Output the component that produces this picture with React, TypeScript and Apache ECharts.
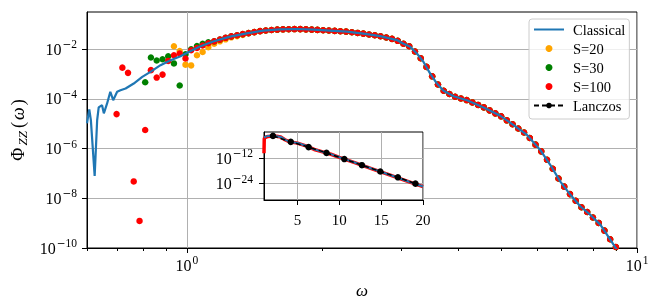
import React, { useEffect, useRef } from "react";
import * as echarts from "echarts";

const xRange = [0.6, 10];
const yLog10Range = [-10, -0.5];
const yMajorTicks = [-10, -8, -6, -4, -2];
const xMajorTicks = [1, 10];
const xMinorTicks = [0.6, 0.7, 0.8, 0.9, 2, 3, 4, 5, 6, 7, 8, 9];

const classicalOmega = [0.600, 0.607, 0.612, 0.624, 0.632, 0.637, 0.648, 0.654, 0.665, 0.676, 0.686, 0.700, 0.712, 0.731, 0.762, 0.796, 0.830, 0.874, 0.920, 0.965, 1.015, 1.069, 1.144, 1.247, 1.358, 1.478, 1.610, 1.754, 1.910, 2.080, 2.266, 2.467, 2.688, 2.928, 3.030, 3.134, 3.244, 3.355, 3.472, 3.594, 3.718, 3.913, 4.191, 4.563, 4.970, 5.320, 5.697, 6.100, 6.421, 6.757, 7.113, 7.487, 7.880, 8.295, 8.730, 9.190];
const classicalLog10 = [-4.98, -4.42, -4.85, -7.10, -4.85, -4.34, -4.25, -4.58, -4.18, -3.71, -4.05, -3.71, -3.65, -3.58, -3.38, -3.11, -2.91, -2.64, -2.44, -2.29, -2.09, -1.89, -1.69, -1.49, -1.36, -1.25, -1.20, -1.185, -1.21, -1.25, -1.29, -1.37, -1.47, -1.63, -1.78, -1.90, -2.17, -2.51, -2.98, -3.38, -3.67, -3.89, -4.05, -4.34, -4.68, -5.05, -5.45, -6.06, -6.66, -7.33, -7.86, -8.33, -8.67, -9.07, -9.67, -10.30];

// frequency grid of the S=... sample points
const omegaGrid = [0.698, 0.719, 0.740, 0.762, 0.785, 0.808, 0.832, 0.857, 0.883, 0.909, 0.936, 0.964, 0.993, 1.022, 1.053, 1.084, 1.116, 1.150, 1.184, 1.219, 1.255, 1.293, 1.331, 1.371, 1.412, 1.454, 1.497, 1.542, 1.588, 1.635, 1.684, 1.734, 1.786, 1.839, 1.894, 1.950, 2.008, 2.068, 2.130, 2.193, 2.258, 2.326, 2.395, 2.466, 2.540, 2.615, 2.693, 2.774, 2.856, 2.941, 3.029, 3.119, 3.212, 3.308, 3.407, 3.508, 3.613, 3.720, 3.831, 3.945, 4.063, 4.184, 4.308, 4.437, 4.569, 4.705, 4.845, 4.990, 5.138, 5.292, 5.449, 5.612, 5.779, 5.951, 6.128, 6.311, 6.499, 6.693, 6.892, 7.097, 7.309, 7.527, 7.751, 7.982, 8.220, 8.465, 8.717, 8.977];

// low-frequency parts that differ between S values (start index in omegaGrid given)
const s100Start = 0;
const s100HeadLog10 = [-4.61, -2.74, -2.95, -7.32, -8.91, -5.25, -2.84, -3.14, -3.02, -2.47, -2.24, -2.17, -2.37, -2.04, -1.95, -1.85, -1.76];
const s30Start = 5;
const s30HeadLog10 = [-3.33, -2.33, -2.45, -2.40, -2.28, -2.57, -3.46, -2.20, -2.00, -1.87, -1.78, -1.72];
const s20Start = 10;
const s20HeadLog10 = [-1.88, -2.07, -2.62, -2.65, -2.24, -2.11, -1.92, -1.78, -1.68, -1.60, -1.52, -1.47, -1.42];
// common part (grid index 17 ... 87), where all S values coincide
const tailStart = 17;
const tailLog10 = [-1.68, -1.61, -1.54, -1.48, -1.435, -1.39, -1.35, -1.31, -1.27, -1.243, -1.226, -1.208, -1.197, -1.192, -1.187, -1.19, -1.199, -1.207, -1.22, -1.233, -1.247, -1.26, -1.274, -1.288, -1.314, -1.342, -1.37, -1.404, -1.438, -1.475, -1.527, -1.583, -1.66, -1.78, -1.88, -2.09, -2.36, -2.71, -3.09, -3.42, -3.67, -3.80, -3.91, -3.98, -4.045, -4.14, -4.24, -4.34, -4.46, -4.58, -4.70, -4.86, -5.02, -5.19, -5.35, -5.57, -5.84, -6.11, -6.45, -6.81, -7.20, -7.53, -7.83, -8.10, -8.36, -8.55, -8.77, -8.99, -9.30, -9.65, -9.96];

// inset
const insetXRange = [1, 20];
const insetYLog10Range = [-31.8, 0.6];
const insetXTicks = [5, 10, 15, 20];
const insetYTicks = [-24, -12];
const insetOmega = [1.0, 1.05, 1.2, 1.5, 2.0, 2.5, 3.0, 3.5, 4.0, 5.0, 6.0, 7.0, 8.0, 9.0, 10.0, 12.0, 14.0, 16.0, 18.0, 20.0];
const insetClassicalLog10 = [-2.1, -1.98, -1.6, -1.25, -1.22, -1.38, -1.75, -3.05, -3.98, -4.66, -5.97, -7.69, -8.8, -9.96, -11.4, -14.2, -17.0, -19.8, -22.6, -25.4];
const insetS100Omega = [1.0, 1.03, 1.1, 1.2, 1.5, 2.0, 2.5, 3.0, 3.5, 4.0, 5.0, 6.0, 7.0, 8.0, 9.0, 10.0, 12.0, 14.0, 16.0, 18.0, 20.0];
const insetS100Log10 = [-9.5, -2.6, -2.2, -1.9, -1.5, -1.3, -1.45, -1.78, -3.08, -4.0, -4.7, -6.0, -7.72, -8.84, -10.0, -11.45, -14.25, -17.05, -19.85, -22.65, -25.45];
const lanczosOmega = [2.07, 4.2, 6.33, 8.47, 10.6, 12.7, 14.9, 17.0, 19.1];
const lanczosLog10 = [-1.25, -4.1, -6.6, -9.35, -12.3, -15.2, -18.2, -21.0, -24.0];

const legendNames = ["Classical", "S=20", "S=30", "S=100", "Lanczos"];

// ---------- styles ----------
const FONT = '"Liberation Serif", "DejaVu Serif", serif';
const MINUS_FONT = '"DejaVu Serif", serif';
const C_BLUE = "#1f77b4";
const C_ORANGE = "#FFA500";
const C_GREEN = "#008000";
const C_RED = "#FF0000";
const GRIDLINE = "#b0b0b0";

const lg = (v: number) => Math.log10(v);
const pairs = (om: number[], lp: number[]) => om.map((o, i) => [lg(o), lp[i]]);
const gridSeries = (start: number, head: number[], tailFrom: number) => {
  const out: number[][] = [];
  head.forEach((v, i) => out.push([lg(omegaGrid[start + i]), v]));
  const tailBegin = start + head.length;
  for (let k = tailBegin; k < omegaGrid.length; k++) {
    out.push([lg(omegaGrid[k]), tailLog10[k - tailFrom]]);
  }
  return out;
};

const powLabel = (v: number) => {
  const n = Math.round(v);
  return n < 0 ? `{b|10}{m|\u2212}{s|${Math.abs(n)}}` : `{b|10}{s0|${n}}`;
};
const powRich = {
  b: { fontFamily: FONT, fontSize: 16, color: "#000", lineHeight: 22 },
  m: { fontFamily: MINUS_FONT, fontSize: 10.5, color: "#000", lineHeight: 11, verticalAlign: "top", padding: [0, 0, 0, 1] },
  s: { fontFamily: FONT, fontSize: 11.5, color: "#000", lineHeight: 11, verticalAlign: "top" },
  s0: { fontFamily: FONT, fontSize: 11.5, color: "#000", lineHeight: 11, verticalAlign: "top", padding: [0, 0, 0, 1] },
};

export default function App() {
  const ref = useRef<HTMLDivElement>(null);
  useEffect(() => {
    if (!ref.current) return;
    const chart = echarts.init(ref.current, undefined, { renderer: "svg" });
    const axisLineStyle = { color: "#000", width: 1 };
    const option: any = {
      animation: false,
      textStyle: { fontFamily: FONT },
      grid: [
        { left: 87, top: 12, width: 550, height: 236, show: true, borderColor: "#000", borderWidth: 1, backgroundColor: "transparent" },
        { left: 264, top: 132, width: 159, height: 68, show: true, borderColor: "#000", borderWidth: 1, backgroundColor: "#fff", z: 5 },
      ],
      xAxis: [
        {
          gridIndex: 0, type: "value", position: "bottom",
          min: lg(xRange[0]), max: lg(xRange[1]),
          axisLine: { show: true, onZero: false, lineStyle: axisLineStyle },
          axisTick: { show: true, length: 5, customValues: xMajorTicks.map(lg), lineStyle: axisLineStyle },
          axisLabel: { customValues: xMajorTicks.map(lg), formatter: (v: number) => powLabel(v), rich: powRich, margin: 6 },
          splitLine: { show: true, lineStyle: { color: GRIDLINE, width: 1 } },
          name: "{it|\u03c9}", nameLocation: "middle", nameGap: 34,
          nameTextStyle: { rich: { it: { fontFamily: FONT, fontSize: 17, fontStyle: "italic", color: "#000" } } },
        },
        {
          gridIndex: 0, type: "value", position: "bottom",
          min: lg(xRange[0]), max: lg(xRange[1]),
          axisLine: { show: false },
          axisTick: { show: true, length: 3, customValues: xMinorTicks.map(lg), lineStyle: axisLineStyle },
          axisLabel: { show: false },
          splitLine: { show: false },
        },
        {
          gridIndex: 1, type: "value", position: "bottom", z: 6,
          min: insetXRange[0], max: insetXRange[1],
          axisLine: { show: true, onZero: false, lineStyle: axisLineStyle },
          axisTick: { show: true, length: 5, customValues: insetXTicks, lineStyle: axisLineStyle },
          axisLabel: { customValues: insetXTicks, fontFamily: FONT, fontSize: 15, color: "#000", margin: 12 },
          splitLine: { show: true, lineStyle: { color: GRIDLINE, width: 1 } },
        },
      ],
      yAxis: [
        {
          gridIndex: 0, type: "value", position: "left",
          min: yLog10Range[0], max: yLog10Range[1],
          axisLine: { show: true, onZero: false, lineStyle: axisLineStyle },
          axisTick: { show: true, length: 5, customValues: yMajorTicks, lineStyle: axisLineStyle },
          axisLabel: { customValues: yMajorTicks, formatter: (v: number) => powLabel(v), rich: powRich, margin: 10 },
          splitLine: { show: true, lineStyle: { color: GRIDLINE, width: 1 } },
          name: "{p|\u03a6}{sub|ZZ}{p|(}{it|\u03c9}{p|)}", nameLocation: "middle", nameGap: 55, nameRotate: 90,
          nameTextStyle: {
            rich: {
              p: { fontFamily: FONT, fontSize: 18, color: "#000", lineHeight: 22, padding: [0, 1, 0, 1] },
              it: { fontFamily: FONT, fontSize: 18, fontStyle: "italic", color: "#000", lineHeight: 22, padding: [0, 1, 0, 1] },
              sub: { fontFamily: FONT, fontSize: 13, fontStyle: "italic", color: "#000", lineHeight: 12, verticalAlign: "bottom", padding: [0, 2, 0, 1] },
            },
          },
        },
        {
          gridIndex: 1, type: "value", position: "left", z: 6,
          min: insetYLog10Range[0], max: insetYLog10Range[1],
          axisLine: { show: true, onZero: false, lineStyle: axisLineStyle },
          axisTick: { show: true, length: 5, customValues: insetYTicks, lineStyle: axisLineStyle },
          axisLabel: { customValues: insetYTicks, formatter: (v: number) => powLabel(v), rich: powRich, margin: 11 },
          splitLine: { show: true, lineStyle: { color: GRIDLINE, width: 1 } },
        },
      ],
      legend: {
        data: [{ name: legendNames[0], itemStyle: { opacity: 0 } }, ...legendNames.slice(1)],
        orient: "vertical",
        left: 529, top: 19,
        itemWidth: 30, itemHeight: 7, itemGap: 4,
        padding: [3, 4, 6, 4],
        backgroundColor: "rgba(255,255,255,0.8)",
        borderColor: "#cccccc", borderWidth: 1, borderRadius: 3,
        selectedMode: false,
        textStyle: { fontFamily: FONT, fontSize: 14.5, color: "#000", padding: [0, 0, 0, 4] },
        z: 20,
      },
      series: [
        { name: "S=20", type: "scatter", xAxisIndex: 0, yAxisIndex: 0, symbolSize: 6.5, itemStyle: { color: C_ORANGE, opacity: 1 }, data: gridSeries(s20Start, s20HeadLog10, tailStart), z: 2 },
        { name: "S=30", type: "scatter", xAxisIndex: 0, yAxisIndex: 0, symbolSize: 6.5, itemStyle: { color: C_GREEN, opacity: 1 }, data: gridSeries(s30Start, s30HeadLog10, tailStart), z: 2 },
        { name: "S=100", type: "scatter", xAxisIndex: 0, yAxisIndex: 0, symbolSize: 6.5, itemStyle: { color: C_RED, opacity: 1 }, data: gridSeries(s100Start, s100HeadLog10, tailStart), z: 2 },
        { name: "Classical", type: "line", xAxisIndex: 0, yAxisIndex: 0, symbol: "none", lineStyle: { color: C_BLUE, width: 2.2 }, itemStyle: { color: C_BLUE }, data: pairs(classicalOmega, classicalLog10), z: 3 },
        { name: "S=100 (inset)", type: "line", xAxisIndex: 2, yAxisIndex: 1, symbol: "none", lineStyle: { color: C_RED, width: 3.5 }, itemStyle: { color: C_RED }, data: insetS100Omega.map((o, i) => [o, insetS100Log10[i]]), z: 10 },
        { name: "Classical (inset)", type: "line", xAxisIndex: 2, yAxisIndex: 1, symbol: "none", lineStyle: { color: C_BLUE, width: 2 }, itemStyle: { color: C_BLUE }, data: insetOmega.map((o, i) => [o, insetClassicalLog10[i]]), z: 11 },
        { name: "Lanczos", type: "line", xAxisIndex: 2, yAxisIndex: 1, symbol: "circle", symbolSize: 6.5, lineStyle: { color: "#000", width: 1.5, type: [5, 3] }, itemStyle: { color: "#000" }, data: lanczosOmega.map((o, i) => [o, lanczosLog10[i]]), z: 12 },
      ],
    };
    chart.setOption(option);
    return () => chart.dispose();
  }, []);
  return <div ref={ref} style={{ position: "fixed", left: 0, top: 0, width: 660, height: 308 }} />;
}
